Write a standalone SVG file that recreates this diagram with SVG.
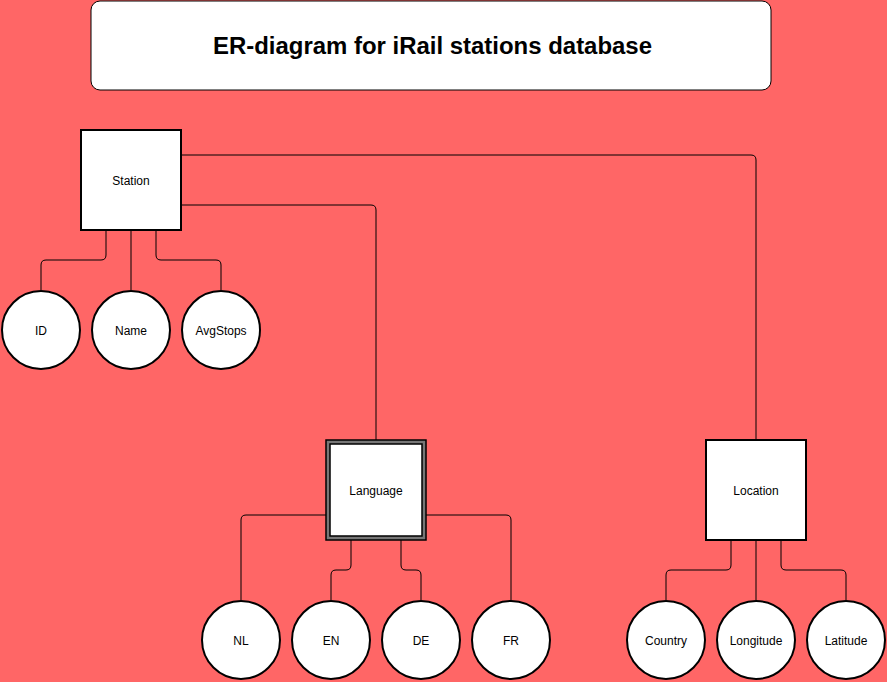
<svg xmlns="http://www.w3.org/2000/svg" width="887" height="682" viewBox="0 0 887 682">
<style>
.ent{fill:#fff;stroke:#000;stroke-width:2}
.att{fill:#fff;stroke:#000;stroke-width:2}
.lbl{font-family:"Liberation Sans",Arial,Helvetica,sans-serif;font-size:12px;fill:#000;text-anchor:middle;dominant-baseline:central}
.ttl{font-family:"Liberation Sans",Arial,Helvetica,sans-serif;font-size:23px;font-weight:bold;fill:#000;text-anchor:middle;dominant-baseline:central}
.con{fill:none;stroke:#000;stroke-width:1}
</style>
<rect x="0" y="0" width="887" height="682" fill="#FF6666"/>
<g id="connectors">
<path class="con" d="M181,155 H751 Q756,155 756,160 V440"/>
<path class="con" d="M181,205 H371 Q376,205 376,210 V440"/>
<path class="con" d="M106,230 V255 Q106,260 101,260 H46 Q41,260 41,265 V290"/>
<path class="con" d="M131,230 V290"/>
<path class="con" d="M156,230 V255 Q156,260 161,260 H216 Q221,260 221,265 V290"/>
<path class="con" d="M326,515 H246 Q241,515 241,520 V600"/>
<path class="con" d="M426,515 H506 Q511,515 511,520 V600"/>
<path class="con" d="M351,540 V565 Q351,570 346,570 H336 Q331,570 331,575 V600"/>
<path class="con" d="M401,540 V565 Q401,570 406,570 H416 Q421,570 421,575 V600"/>
<path class="con" d="M731,540 V565 Q731,570 726,570 H671 Q666,570 666,575 V600"/>
<path class="con" d="M756,540 V600"/>
<path class="con" d="M781,540 V565 Q781,570 786,570 H841 Q846,570 846,575 V600"/>
</g>
<g id="title">
<rect x="91" y="1" width="680" height="89" rx="9" ry="9" fill="#fff" stroke="#000" stroke-width="1"/>
<text class="ttl" x="432.5" y="46" textLength="439" lengthAdjust="spacingAndGlyphs">ER-diagram for iRail stations database</text>
</g>
<g id="station">
<rect class="ent" x="81" y="130" width="100" height="100"/>
<text class="lbl" x="131" y="181">Station</text>
</g>
<g id="language">
<rect x="326" y="440" width="100" height="100" fill="#777" stroke="#000" stroke-width="1.5"/>
<rect x="330" y="444" width="92" height="92" fill="#fff" stroke="#000" stroke-width="1.5"/>
<text class="lbl" x="376" y="491">Language</text>
</g>
<g id="location">
<rect class="ent" x="706" y="440" width="100" height="100"/>
<text class="lbl" x="756" y="491">Location</text>
</g>
<g id="attr-id"><circle class="att" cx="41" cy="330" r="39"/><text class="lbl" x="41" y="331">ID</text></g>
<g id="attr-name"><circle class="att" cx="131" cy="330" r="39"/><text class="lbl" x="131" y="331">Name</text></g>
<g id="attr-avgstops"><circle class="att" cx="221" cy="330" r="39"/><text class="lbl" x="221" y="331">AvgStops</text></g>
<g id="attr-nl"><circle class="att" cx="241" cy="640" r="39"/><text class="lbl" x="241" y="641">NL</text></g>
<g id="attr-en"><circle class="att" cx="331" cy="640" r="39"/><text class="lbl" x="331" y="641">EN</text></g>
<g id="attr-de"><circle class="att" cx="421" cy="640" r="39"/><text class="lbl" x="421" y="641">DE</text></g>
<g id="attr-fr"><circle class="att" cx="511" cy="640" r="39"/><text class="lbl" x="511" y="641">FR</text></g>
<g id="attr-country"><circle class="att" cx="666" cy="640" r="39"/><text class="lbl" x="666" y="641">Country</text></g>
<g id="attr-longitude"><circle class="att" cx="756" cy="640" r="39"/><text class="lbl" x="756" y="641">Longitude</text></g>
<g id="attr-latitude"><circle class="att" cx="846" cy="640" r="39"/><text class="lbl" x="846" y="641">Latitude</text></g>
</svg>
